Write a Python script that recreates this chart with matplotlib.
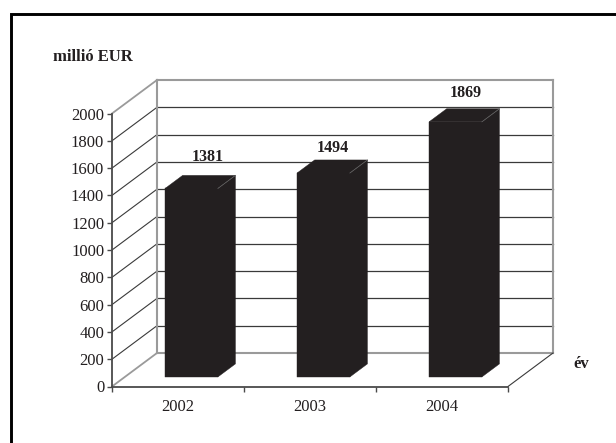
import matplotlib
matplotlib.use("Agg")
import matplotlib.pyplot as plt
from matplotlib.lines import Line2D
from matplotlib.patches import Polygon

years = ["2002", "2003", "2004"]
values = [1381, 1494, 1869]
yticks = [0, 200, 400, 600, 800, 1000, 1200, 1400, 1600, 1800, 2000]
label_offsets = [(-0.8, 7.8), (-5.8, 2.8), (-5.1, 5.7)]

plt.rcParams['font.family'] = ['Liberation Serif', 'DejaVu Serif']
W, H = 616, 443
fig = plt.figure(figsize=(W / 100, H / 100), dpi=100)

# Frame: only the top and left rules are present
fig.add_artist(Line2D([10.5 / W, 10.5 / W, 1], [0, 1 - 13.5 / H, 1 - 13.5 / H],
                      transform=fig.transFigure, color='#000000', lw=2.1,
                      solid_joinstyle='miter'))

ax = fig.add_axes([112 / W, 1 - 386.5 / H, 396 / W, 273 / H])
ax.set_xlim(0, 3)
ax.set_ylim(0, 2000)
ax.patch.set_visible(False)
for s in ['top', 'right']:
    ax.spines[s].set_visible(False)
for s in ['left', 'bottom']:
    ax.spines[s].set_color('#4a4a4a')
    ax.spines[s].set_linewidth(1.3)

DX = 45 / 132      # depth offset in category units
DY = 33.5 / 273 * 2000  # depth offset in value units
GREY = '#9a9a9a'
DARK = '#3a3a3a'

def P(x, y, d):
    return (x + d * DX, y + d * DY)

# Gridlines: back wall and side wall
for v in yticks[1:-1]:
    ax.plot(*zip(P(0, v, 1), P(3, v, 1)), color=DARK, lw=0.9, clip_on=False, zorder=1)
    ax.plot(*zip(P(0, v, 0), P(0, v, 1)), color=DARK, lw=0.8, clip_on=False, zorder=1)

# Back wall outline
ax.plot(*zip(P(0, 0, 1), P(3, 0, 1)), color=GREY, lw=1.5, clip_on=False, zorder=2)
ax.plot(*zip(P(0, 2000, 1), P(3, 2000, 1)), color=GREY, lw=1.5, clip_on=False, zorder=2)
ax.plot(*zip(P(0, 0, 1), P(0, 2000, 1)), color=GREY, lw=1.5, clip_on=False, zorder=2)
ax.plot(*zip(P(3, 0, 1), P(3, 2000, 1)), color=GREY, lw=1.5, clip_on=False, zorder=2)
ax.plot(*zip(P(0, 2000, 0), P(0, 2000, 1)), color=GREY, lw=1.3, clip_on=False, zorder=2)
ax.plot(*zip(P(0, 0, 0), P(0, 0, 1)), color=GREY, lw=1.3, clip_on=False, zorder=2)
ax.plot(*zip(P(3, 0, 0), P(3, 0, 1)), color=DARK, lw=0.8, clip_on=False, zorder=2)

# Bars
BAR = '#231f20'
HW = 0.2
D0, D1 = 0.285, 0.675
for i, v in enumerate(values):
    c = i + 0.505
    l, r = c - HW, c + HW
    front = [P(l, 0, D0), P(r, 0, D0), P(r, v, D0), P(l, v, D0)]
    side = [P(r, 0, D0), P(r, 0, D1), P(r, v, D1), P(r, v, D0)]
    top = [P(l, v, D0), P(r, v, D0), P(r, v, D1), P(l, v, D1)]
    for poly in (front, side, top):
        ax.add_patch(Polygon(poly, closed=True, fc=BAR, ec=BAR, lw=0.3, zorder=3, clip_on=False))
    ax.plot(*zip(P(r, v, D0), P(r, v, D1)), color='#6a6a6a', lw=0.5, zorder=4, clip_on=False)
    ax.annotate(str(v), xy=P(c, v, D1), xytext=label_offsets[i], textcoords='offset points',
                ha='center', va='bottom', fontsize=11.5, fontweight='bold',
                color='#231f20', annotation_clip=False, zorder=5)

ax.set_yticks(yticks)
ax.set_xticks([0, 1, 2, 3])
ax.set_xticklabels([])
ax.set_xticks([0.5, 1.5, 2.5], minor=True)
ax.set_xticklabels(years, minor=True)
ax.tick_params(axis='x', which='minor', length=0, labelsize=12, pad=9, labelcolor='#231f20')
ax.tick_params(axis='x', which='major', length=3.6, width=1, color='#4a4a4a')
ax.tick_params(axis='y', length=3.6, width=1, color='#4a4a4a', labelsize=12, pad=2, labelcolor='#231f20')

fig.text(53 / W, 1 - 57 / H, "millió EUR", ha='left', va='center', fontsize=12,
         fontweight='bold', color='#231f20')
fig.text(581 / W, 1 - 364 / H, "év", ha='center', va='center', fontsize=12,
         fontweight='bold', color='#231f20')

fig.savefig("out.png", dpi=100, facecolor='white')
